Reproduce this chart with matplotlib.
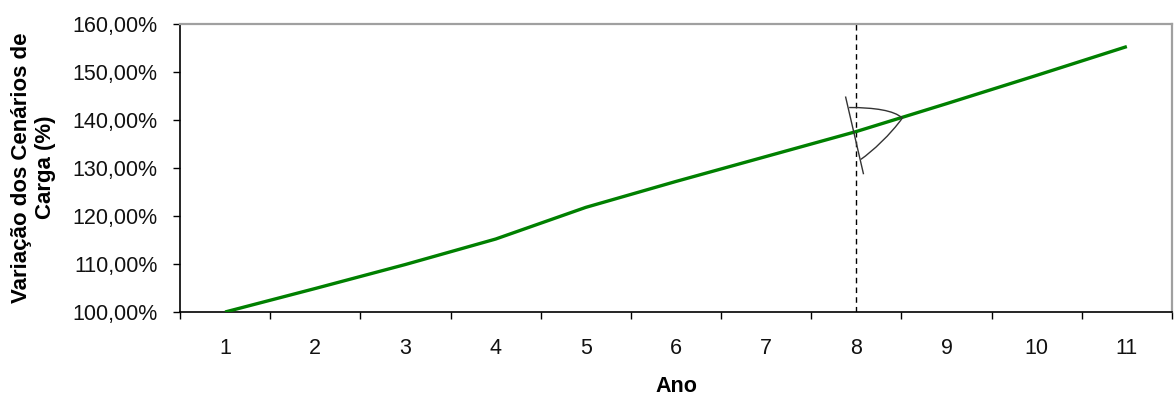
import matplotlib
matplotlib.use("Agg")
import matplotlib.pyplot as plt
from matplotlib.path import Path
from matplotlib.patches import PathPatch
from matplotlib.ticker import FuncFormatter, FixedLocator

plt.rcParams['font.family'] = ['Liberation Sans', 'DejaVu Sans']

# Load scenario growth by year (% of year 1)
anos = [1, 2, 3, 4, 5, 6, 7, 8, 9, 10, 11]
variacao = [100.0, 104.9, 109.9, 115.2, 121.8, 127.2, 132.4, 137.6, 143.4, 149.3, 155.3]
ano_marcado = 8

fig = plt.figure(figsize=(11.75, 3.96), dpi=100)
ax = fig.add_axes([0.1532, 0.2121, 0.8442, 0.7273])

ax.plot(anos, variacao, color='#008000', linewidth=2.4, solid_capstyle='butt', zorder=3)

# vertical dashed marker at the highlighted year
ax.axvline(ano_marcado, color='black', linestyle=(0, (4, 3)), linewidth=1.0, zorder=2)

# hand-drawn arc symbol around the marker
verts = [(7.88, 144.9), (8.08, 128.7)]
ax.add_patch(PathPatch(Path(verts, [Path.MOVETO, Path.LINETO]),
                       fill=False, edgecolor='#333333', linewidth=1.0, zorder=4))
arc = [(7.92, 142.6), (8.20, 142.6), (8.42, 142.0), (8.51, 140.4),
       (8.38, 137.0), (8.18, 133.5), (8.05, 131.8)]
codes = [Path.MOVETO, Path.CURVE4, Path.CURVE4, Path.CURVE4,
         Path.CURVE4, Path.CURVE4, Path.CURVE4]
ax.add_patch(PathPatch(Path(arc, codes), fill=False, edgecolor='#333333',
                       linewidth=1.0, zorder=4))

ax.set_xlim(0.5, 11.5)
ax.set_ylim(100, 160)

ax.set_yticks(range(100, 161, 10))
ax.yaxis.set_major_formatter(FuncFormatter(lambda v, p: f"{v:.2f}".replace('.', ',') + '%'))

ax.xaxis.set_major_locator(FixedLocator([a - 0.5 for a in anos] + [11.5]))
ax.xaxis.set_major_formatter(FuncFormatter(lambda v, p: ''))
ax.xaxis.set_minor_locator(FixedLocator(anos))
ax.set_xticklabels([str(a) for a in anos], minor=True)

ax.tick_params(axis='x', which='major', direction='out', length=5, width=1, color='black')
ax.tick_params(axis='x', which='minor', length=0, pad=19, labelsize=15.5, labelcolor='#111111')
ax.tick_params(axis='y', direction='out', length=5, width=1, pad=11, labelsize=15.5,
               labelcolor='#111111')

for s in ('left', 'bottom'):
    ax.spines[s].set_color('black')
    ax.spines[s].set_linewidth(1.2)
for s in ('top', 'right'):
    ax.spines[s].set_color('#a0a0a0')
    ax.spines[s].set_linewidth(1.6)

ax.set_xlabel('Ano', fontsize=15.5, fontweight='bold', labelpad=12)
ax.set_ylabel('Variação dos Cenários de\nCarga (%)', fontsize=16, fontweight='bold',
              linespacing=1.2)
ax.yaxis.label.set_va('center')
ax.yaxis.set_label_coords(-0.148, 0.502)

fig.savefig('out.png', dpi=100)
